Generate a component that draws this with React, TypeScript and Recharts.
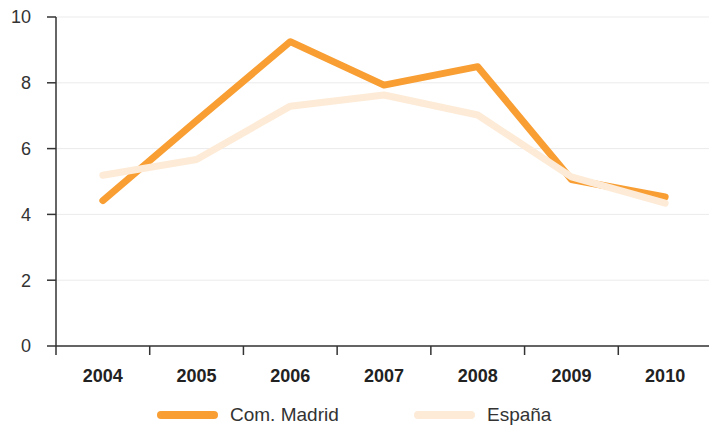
import React from 'react';
import { LineChart, Line, XAxis, YAxis, CartesianGrid, Legend } from 'recharts';

const years = ['2004', '2005', '2006', '2007', '2008', '2009', '2010'];
const madrid = [4.42, 6.85, 9.25, 7.93, 8.49, 5.06, 4.53];
const espana = [5.19, 5.67, 7.29, 7.63, 7.02, 5.14, 4.34];
const yTicks = [0, 2, 4, 6, 8, 10];
const boundaryTicks = [-0.5, 0.5, 1.5, 2.5, 3.5, 4.5, 5.5, 6.5];
const labelTicks = years.map((_, i) => i);

const series = [
  { key: 'madrid', name: 'Com. Madrid', color: '#F89E33' },
  { key: 'espana', name: 'España', color: '#FDEBD7' },
];

const data = years.map((y, i) => ({ i, year: y, madrid: madrid[i], espana: espana[i] }));

const FONT = '"Liberation Sans", Arial, Helvetica, sans-serif';

const LegendContent = () => (
  <div style={{ height: 44, paddingTop: 22, boxSizing: 'border-box', display: 'flex', paddingLeft: 157, fontFamily: FONT }}>
    {series.map((s, idx) => (
      <div key={s.key} style={{ display: 'flex', alignItems: 'center', height: 20, width: idx === 0 ? 257 : undefined }}>
        <svg width={61} height={10} style={{ display: 'block' }}>
          <line x1={4} y1={5} x2={57} y2={5} stroke={s.color} strokeWidth={8} strokeLinecap="round" />
        </svg>
        <span style={{ marginLeft: 12, fontSize: 19, color: '#333', lineHeight: '20px' }}>{s.name}</span>
      </div>
    ))}
  </div>
);

export default function App() {
  return (
    <div style={{ position: 'absolute', left: 0, top: 0, width: 709, height: 427, overflow: 'hidden' }}>
      <LineChart width={709} height={427} data={data} margin={{ top: 17, right: -3, bottom: 0, left: 0 }}>
        <CartesianGrid vertical={false} stroke="#ebebeb" strokeWidth={1} />
        <XAxis
          dataKey="i"
          type="number"
          domain={[-0.5, 6.5]}
          ticks={boundaryTicks}
          tickFormatter={() => ''}
          tickSize={9}
          height={9}
          axisLine={{ stroke: '#333', strokeWidth: 1.5 }}
          tickLine={{ stroke: '#333', strokeWidth: 1.5 }}
          interval={0}
        />
        <XAxis
          xAxisId="labels"
          dataKey="i"
          type="number"
          domain={[-0.5, 6.5]}
          ticks={labelTicks}
          tickFormatter={(v: number) => years[v] ?? ''}
          tickSize={0}
          tickMargin={14}
          height={28}
          axisLine={false}
          tickLine={false}
          interval={0}
          tick={{ fontSize: 18, fontWeight: 'bold', fill: '#222', fontFamily: FONT }}
        />
        <YAxis
          domain={[0, 10]}
          ticks={yTicks}
          width={56}
          tickSize={9}
          tickMargin={16}
          axisLine={{ stroke: '#333', strokeWidth: 1.5 }}
          tickLine={{ stroke: '#333', strokeWidth: 1.5 }}
          tick={{ fontSize: 18, fill: '#333', fontFamily: FONT }}
          interval={0}
        />
        <Legend verticalAlign="bottom" content={<LegendContent />} />
        {series.map((s) => (
          <Line
            key={s.key}
            dataKey={s.key}
            name={s.name}
            stroke={s.color}
            strokeWidth={7}
            strokeLinecap="round"
            strokeLinejoin="round"
            dot={false}
            activeDot={false}
            isAnimationActive={false}
          />
        ))}
      </LineChart>
    </div>
  );
}
